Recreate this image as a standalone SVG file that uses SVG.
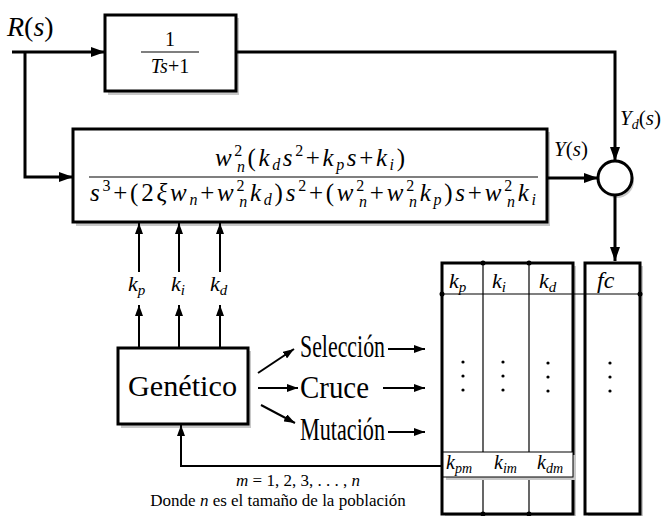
<svg xmlns="http://www.w3.org/2000/svg" width="663" height="516" viewBox="0 0 663 516" font-family="'Liberation Serif', 'Times New Roman', serif">
<defs>
<marker id="ah" viewBox="0 0 14 10" refX="14" refY="5" markerWidth="14" markerHeight="10" markerUnits="userSpaceOnUse" orient="auto"><path d="M0,0 L14,5 L0,10 Z" fill="#000"/></marker>
<marker id="as" viewBox="0 0 11 8" refX="11" refY="4" markerWidth="11" markerHeight="8" markerUnits="userSpaceOnUse" orient="auto"><path d="M0,0 L11,4 L0,8 Z" fill="#000"/></marker>
</defs>
<rect width="663" height="516" fill="#fff"/>
<g id="shadows" fill="#c8c8c8">
<rect x="108" y="18" width="131" height="77"/>
<rect x="76" y="132" width="474" height="94"/>
<rect x="121" y="351" width="130" height="77"/>
<rect x="445" y="266" width="131" height="250"/>
<rect x="588" y="266" width="55" height="250"/>
<circle cx="617" cy="181" r="17"/>
</g>
<text x="7" y="36" font-size="28" font-family="Liberation Serif"><tspan font-style="italic">R</tspan>(<tspan font-style="italic">s</tspan>)</text>
<g id="connectors" fill="none" stroke="#000">
<g stroke-width="3">
<path d="M12,52 H105" marker-end="url(#ah)"/>
<path d="M25,52 V177 H73" marker-end="url(#ah)"/>
<path d="M236,52 H615 V161" marker-end="url(#ah)"/>
<path d="M547,178 H598" marker-end="url(#ah)"/>
<path d="M615,195 V261" marker-end="url(#ah)"/>
</g>
<g stroke-width="2">
<path d="M139,272 V223" marker-end="url(#as)"/>
<path d="M179,272 V223" marker-end="url(#as)"/>
<path d="M220,272 V223" marker-end="url(#as)"/>
<path d="M139,348 V305" marker-end="url(#as)"/>
<path d="M179,348 V305" marker-end="url(#as)"/>
<path d="M220,348 V305" marker-end="url(#as)"/>
<path d="M258,373 L294,349" marker-end="url(#as)"/>
<path d="M258,388 L298,388" marker-end="url(#as)"/>
<path d="M261,405 L295,423" marker-end="url(#as)"/>
<path d="M388,349 H425" marker-end="url(#as)"/>
<path d="M383,388 H425" marker-end="url(#as)"/>
<path d="M388,432 H425" marker-end="url(#as)"/>
<path d="M443,466 H181 V425" marker-end="url(#as)"/>
</g>
</g>
<g id="tf1">
<rect x="105" y="15" width="131" height="76" fill="#fff" stroke="#000" stroke-width="3"/>
<text x="170" y="46" font-size="20" text-anchor="middle" font-family="Liberation Serif">1</text>
<line x1="141" y1="52" x2="199" y2="52" stroke="#000" stroke-width="1.2"/>
<text x="170" y="73" font-size="20" text-anchor="middle" font-family="Liberation Serif"><tspan font-style="italic">Ts</tspan>+1</text>
</g>
<g id="tf2">
<rect x="73" y="129" width="474" height="93" fill="#fff" stroke="#000" stroke-width="3"/>
<text x="215" y="166" font-size="25" font-family="Liberation Serif" textLength="190"><tspan font-style="italic">w</tspan><tspan font-size="16" dy="-10">2</tspan><tspan font-size="16" font-style="italic" dx="-8" dy="16">n</tspan><tspan dy="-6">(</tspan><tspan font-style="italic">k</tspan><tspan font-size="16" font-style="italic" dy="4">d</tspan><tspan font-style="italic" dy="-4">s</tspan><tspan font-size="16" dy="-10">2</tspan><tspan dy="10">+</tspan><tspan font-style="italic">k</tspan><tspan font-size="16" font-style="italic" dy="4">p</tspan><tspan font-style="italic" dy="-4">s</tspan>+<tspan font-style="italic">k</tspan><tspan font-size="16" font-style="italic" dy="4">i</tspan><tspan dy="-4">)</tspan></text>
<line x1="89" y1="177" x2="538" y2="177" stroke="#000" stroke-width="1.2"/>
<text x="90" y="201" font-size="25" font-family="Liberation Serif" textLength="446"><tspan font-style="italic">s</tspan><tspan font-size="16" dy="-10">3</tspan><tspan dy="10">+(2</tspan><tspan font-style="italic">ξw</tspan><tspan font-size="16" font-style="italic" dy="4">n</tspan><tspan dy="-4">+</tspan><tspan font-style="italic">w</tspan><tspan font-size="16" dy="-10">2</tspan><tspan font-size="16" font-style="italic" dx="-8" dy="16">n</tspan><tspan font-style="italic" dy="-6">k</tspan><tspan font-size="16" font-style="italic" dy="4">d</tspan><tspan dy="-4">)</tspan><tspan font-style="italic">s</tspan><tspan font-size="16" dy="-10">2</tspan><tspan dy="10">+(</tspan><tspan font-style="italic">w</tspan><tspan font-size="16" dy="-10">2</tspan><tspan font-size="16" font-style="italic" dx="-8" dy="16">n</tspan><tspan dy="-6">+</tspan><tspan font-style="italic">w</tspan><tspan font-size="16" dy="-10">2</tspan><tspan font-size="16" font-style="italic" dx="-8" dy="16">n</tspan><tspan font-style="italic" dy="-6">k</tspan><tspan font-size="16" font-style="italic" dy="4">p</tspan><tspan dy="-4">)</tspan><tspan font-style="italic">s</tspan>+<tspan font-style="italic">w</tspan><tspan font-size="16" dy="-10">2</tspan><tspan font-size="16" font-style="italic" dx="-8" dy="16">n</tspan><tspan font-style="italic" dy="-6">k</tspan><tspan font-size="16" font-style="italic" dy="4">i</tspan></text>
</g>
<text x="620" y="125" font-size="21" font-family="Liberation Serif"><tspan font-style="italic">Y</tspan><tspan font-size="14" font-style="italic" dy="4">d</tspan><tspan dy="-4">(</tspan><tspan font-style="italic">s</tspan>)</text>
<text x="554" y="156" font-size="21" font-family="Liberation Serif"><tspan font-style="italic">Y</tspan>(<tspan font-style="italic">s</tspan>)</text>
<g id="sum"><circle cx="615" cy="178" r="17" fill="#fff" stroke="#000" stroke-width="3"/></g>
<g id="klabels">
<text x="128" y="291" font-size="22" font-family="Liberation Serif"><tspan font-style="italic">k</tspan><tspan font-size="15" font-style="italic" dy="4">p</tspan></text>
<text x="171" y="291" font-size="22" font-family="Liberation Serif"><tspan font-style="italic">k</tspan><tspan font-size="15" font-style="italic" dy="4">i</tspan></text>
<text x="210" y="291" font-size="22" font-family="Liberation Serif"><tspan font-style="italic">k</tspan><tspan font-size="15" font-style="italic" dy="4">d</tspan></text>
</g>
<g id="genetico">
<rect x="118" y="348" width="130" height="76" fill="#fff" stroke="#000" stroke-width="3"/>
<text x="128" y="396" font-size="30" textLength="109" lengthAdjust="spacingAndGlyphs" font-family="Liberation Serif">Genético</text>
</g>
<g id="ops">
<text x="300" y="357" font-size="31" textLength="85" lengthAdjust="spacingAndGlyphs" font-family="Liberation Serif">Selección</text>
<text x="300" y="398" font-size="31" textLength="69" lengthAdjust="spacingAndGlyphs" font-family="Liberation Serif">Cruce</text>
<text x="300" y="440" font-size="31" textLength="85" lengthAdjust="spacingAndGlyphs" font-family="Liberation Serif">Mutación</text>
</g>
<g id="table">
<rect x="442" y="263" width="131" height="251" fill="#fff" stroke="#000" stroke-width="3"/>
<rect x="585" y="263" width="55" height="251" fill="#fff" stroke="#000" stroke-width="3"/>
<g stroke="#000" stroke-width="1.2">
<line x1="483" y1="263" x2="483" y2="514"/>
<line x1="529" y1="263" x2="529" y2="514"/>
<line x1="442" y1="294" x2="640" y2="294"/>
</g>
<circle cx="483" cy="263" r="2.5"/><circle cx="529" cy="263" r="2.5"/>
<circle cx="442" cy="294" r="2.5"/><circle cx="640" cy="294" r="2.5"/>
<circle cx="483" cy="514" r="2.5"/><circle cx="529" cy="514" r="2.5"/>
<text x="449" y="288" font-size="22" font-family="Liberation Serif"><tspan font-style="italic">k</tspan><tspan font-size="15" font-style="italic" dy="4">p</tspan></text>
<text x="492" y="288" font-size="22" font-family="Liberation Serif"><tspan font-style="italic">k</tspan><tspan font-size="15" font-style="italic" dy="4">i</tspan></text>
<text x="539" y="288" font-size="22" font-family="Liberation Serif"><tspan font-style="italic">k</tspan><tspan font-size="15" font-style="italic" dy="4">d</tspan></text>
<text x="597" y="288" font-size="24" font-style="italic" font-family="Liberation Serif">fc</text>
<g fill="#000">
<circle cx="463" cy="362" r="1.6"/><circle cx="463" cy="376" r="1.6"/><circle cx="463" cy="390" r="1.6"/>
<circle cx="503" cy="362" r="1.6"/><circle cx="503" cy="376" r="1.6"/><circle cx="503" cy="390" r="1.6"/>
<circle cx="548" cy="363" r="1.6"/><circle cx="548" cy="377" r="1.6"/><circle cx="548" cy="391" r="1.6"/>
<circle cx="610" cy="363" r="1.6"/><circle cx="610" cy="377" r="1.6"/><circle cx="610" cy="391" r="1.6"/>
</g>
<rect x="446" y="455" width="130" height="25" fill="#c8c8c8"/>
<rect x="443" y="452" width="130" height="25" fill="#fff" stroke="#000" stroke-width="1"/>
<text x="446" y="469" font-size="20" font-family="Liberation Serif"><tspan font-style="italic">k</tspan><tspan font-size="14" font-style="italic" dy="4">pm</tspan></text>
<text x="494" y="469" font-size="20" font-family="Liberation Serif"><tspan font-style="italic">k</tspan><tspan font-size="14" font-style="italic" dy="4">im</tspan></text>
<text x="537" y="469" font-size="20" font-family="Liberation Serif"><tspan font-style="italic">k</tspan><tspan font-size="14" font-style="italic" dy="4">dm</tspan></text>
</g>
<text x="298" y="486" font-size="17" text-anchor="middle" font-family="Liberation Serif"><tspan font-style="italic">m</tspan> = 1, 2, 3, . . . , <tspan font-style="italic">n</tspan></text>
<text x="278" y="506" font-size="17" text-anchor="middle" font-family="Liberation Serif">Donde <tspan font-style="italic">n</tspan> es el tamaño de la población</text>
</svg>
